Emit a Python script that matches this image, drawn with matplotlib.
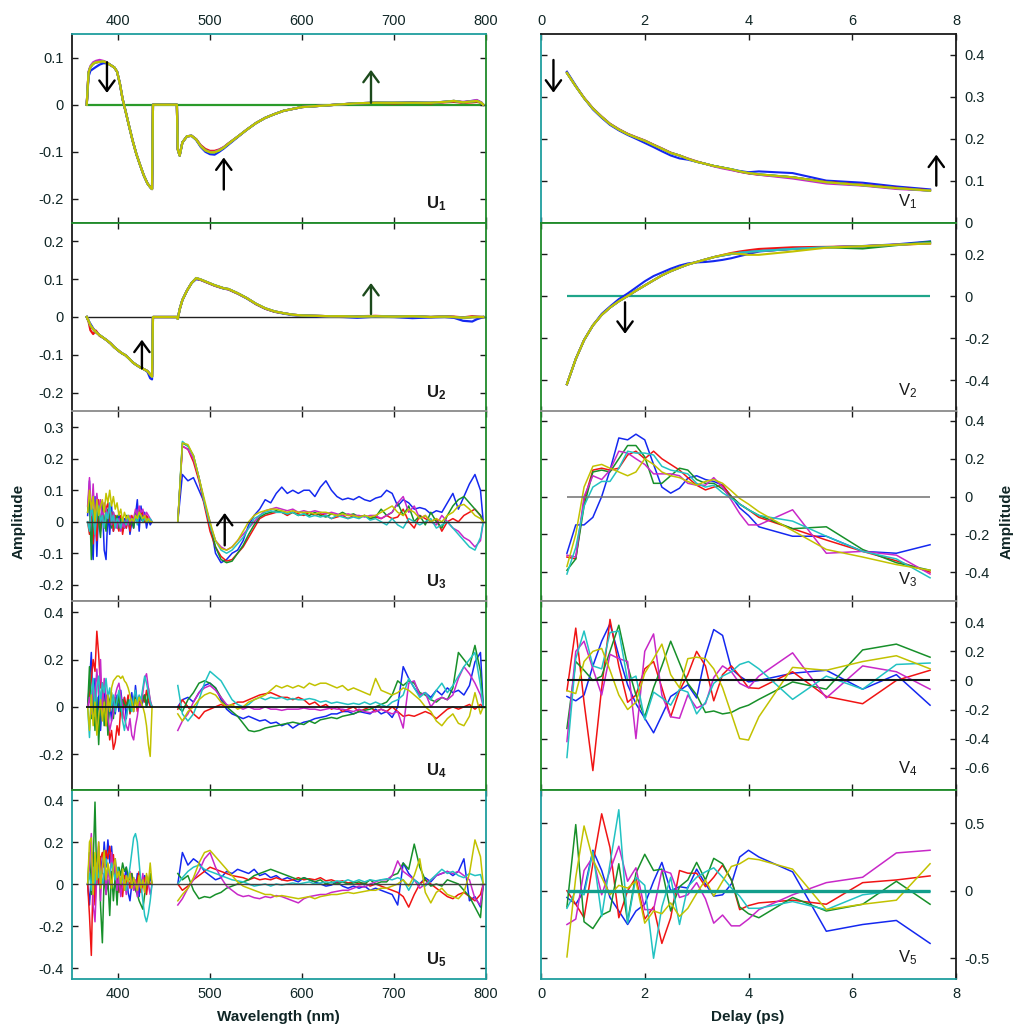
import matplotlib
matplotlib.use("Agg")
import matplotlib.pyplot as plt
from matplotlib.ticker import FixedLocator, FuncFormatter

plt.rcParams["font.family"] = ["Liberation Sans", "DejaVu Sans"]
plt.rcParams["axes.unicode_minus"] = False
plt.rcParams["mathtext.fontset"] = "custom"
plt.rcParams["mathtext.rm"] = "Liberation Sans"
plt.rcParams["mathtext.bf"] = "Liberation Sans:bold"

# ---------------------------------------------------------------- x grids
# U1/U2 spectra keep the blanked pump window (438-464 nm) at zero
wl_u12 = [366, 368, 370, 373, 376, 380, 384, 388, 392, 396, 399, 402, 405, 408, 412,
          416, 420, 424, 428, 432, 435, 437, 438, 464, 465, 467, 470, 475, 480, 485,
          490, 495, 500, 505, 510, 515, 520, 530, 540, 550, 560, 570, 580, 590, 600,
          615, 630, 645, 660, 680, 700, 720, 740, 755, 765, 775, 785, 790, 795, 797]
# blue side and red side of the pump window for U3-U5
wl_a = [367, 369, 371, 373, 375, 377, 379, 381, 383, 385, 387, 389, 391, 393, 395, 397,
        399, 401, 403, 405, 407, 409, 411, 413, 415, 417, 419, 421, 423, 425, 427, 429,
        431, 433, 435, 437]
wl_b = [465, 470, 476, 482, 488, 494, 500, 506, 512, 518, 524, 530, 536, 542, 548, 554,
        560, 566, 572, 578, 584, 590, 596, 602, 608, 614, 620, 626, 632, 638, 644, 650,
        656, 662, 668, 674, 680, 686, 692, 698, 704, 710, 716, 722, 728, 734, 740, 746,
        752, 758, 764, 770, 776, 782, 788, 794, 797]
delay = [0.5, 0.67, 0.83, 1.0, 1.17, 1.33, 1.5, 1.67, 1.83, 2.0, 2.17, 2.33, 2.5, 2.67,
         2.83, 3.0, 3.17, 3.33, 3.5, 3.67, 3.83, 4.0, 4.2, 4.85, 5.5, 6.2, 6.85, 7.5]

# ---------------------------------------------------------------- U1
u1_common = [0.0, 0.068, 0.08, 0.087, 0.09, 0.091, 0.092, 0.089, 0.084, 0.079, 0.07, 0.045,
             0.012, -0.012, -0.045, -0.077, -0.105, -0.128, -0.15, -0.167, -0.175, -0.179,
             0.0, 0.0, -0.095, -0.108, -0.08, -0.067, -0.066, -0.074, -0.088, -0.097,
             -0.101, -0.101, -0.097, -0.091, -0.083, -0.068, -0.053, -0.039, -0.028, -0.02,
             -0.013, -0.009, -0.005, -0.003, -0.001, 0.001, 0.003, 0.004, 0.004, 0.004,
             0.004, 0.006, 0.008, 0.005, 0.007, 0.008, 0.004, 0.0]
u1_blue = [0.0, 0.06, 0.072, 0.076, 0.08, 0.085, 0.088, 0.088, 0.084, 0.079, 0.07, 0.045,
           0.012, -0.012, -0.045, -0.077, -0.105, -0.128, -0.15, -0.167, -0.175, -0.179,
           0.0, 0.0, -0.095, -0.108, -0.08, -0.067, -0.066, -0.075, -0.09, -0.1,
           -0.105, -0.106, -0.1, -0.093, -0.085, -0.069, -0.053, -0.039, -0.028, -0.02,
           -0.013, -0.009, -0.005, -0.003, -0.001, 0.001, 0.003, 0.004, 0.004, 0.005,
           0.004, 0.006, 0.007, 0.005, 0.008, 0.009, 0.004, 0.0]
u1_red = [0.0, 0.068, 0.08, 0.087, 0.09, 0.091, 0.092, 0.089, 0.084, 0.079, 0.07, 0.045,
          0.012, -0.012, -0.045, -0.077, -0.105, -0.128, -0.15, -0.167, -0.175, -0.179,
          0.0, 0.0, -0.095, -0.108, -0.08, -0.067, -0.066, -0.073, -0.086, -0.094,
          -0.098, -0.098, -0.095, -0.09, -0.082, -0.068, -0.053, -0.039, -0.028, -0.02,
          -0.013, -0.009, -0.005, -0.003, -0.001, 0.001, 0.003, 0.004, 0.003, 0.004,
          0.003, 0.005, 0.006, 0.004, 0.005, 0.006, 0.004, 0.0]
u1_magenta = [0.0, 0.07, 0.082, 0.09, 0.093, 0.095, 0.093, 0.09, 0.084, 0.079, 0.07, 0.045,
              0.012, -0.012, -0.045, -0.077, -0.105, -0.128, -0.15, -0.167, -0.175, -0.179,
              0.0, 0.0, -0.095, -0.108, -0.08, -0.067, -0.066, -0.074, -0.088, -0.097,
              -0.1, -0.1, -0.096, -0.09, -0.083, -0.068, -0.053, -0.039, -0.028, -0.02,
              -0.013, -0.009, -0.005, -0.003, -0.001, 0.001, 0.003, 0.004, 0.004, 0.004,
              0.004, 0.006, 0.008, 0.006, 0.008, 0.01, 0.005, 0.0]

# ---------------------------------------------------------------- U2
u2_common = [0.0, -0.01, -0.022, -0.032, -0.04, -0.048, -0.055, -0.062, -0.07, -0.08,
             -0.086, -0.092, -0.097, -0.101, -0.11, -0.12, -0.127, -0.133, -0.138, -0.143,
             -0.152, -0.158, 0.0, 0.0, -0.005, 0.02, 0.045, 0.07, 0.09, 0.103, 0.099,
             0.094, 0.089, 0.084, 0.08, 0.076, 0.074, 0.063, 0.05, 0.035, 0.023, 0.015,
             0.01, 0.006, 0.004, 0.003, 0.002, 0.002, 0.001, 0.002, 0.001, 0.002, 0.0,
             0.001, 0.0, -0.002, 0.0, 0.0, 0.0, 0.0]
u2_blue = [0.0, -0.01, -0.018, -0.03, -0.04, -0.048, -0.055, -0.062, -0.07, -0.08,
           -0.086, -0.092, -0.097, -0.101, -0.11, -0.12, -0.127, -0.133, -0.138, -0.145,
           -0.162, -0.165, 0.0, 0.0, -0.005, 0.02, 0.045, 0.07, 0.09, 0.1, 0.098,
           0.093, 0.088, 0.083, 0.079, 0.075, 0.073, 0.062, 0.049, 0.034, 0.022, 0.014,
           0.009, 0.005, 0.003, 0.002, 0.001, 0.0, -0.002, 0.001, 0.0, -0.003, -0.001,
           0.0, -0.002, -0.01, -0.012, -0.006, -0.002, 0.0]
u2_red = [0.0, -0.012, -0.035, -0.045, -0.036, -0.05, -0.055, -0.062, -0.07, -0.08,
          -0.086, -0.092, -0.097, -0.101, -0.11, -0.12, -0.127, -0.133, -0.138, -0.143,
          -0.152, -0.158, 0.0, 0.0, -0.005, 0.02, 0.045, 0.07, 0.09, 0.102, 0.098,
          0.093, 0.088, 0.083, 0.079, 0.076, 0.073, 0.062, 0.05, 0.034, 0.022, 0.014,
          0.01, 0.006, 0.004, 0.003, 0.002, 0.001, 0.002, 0.003, 0.001, 0.002, 0.0,
          0.002, 0.001, -0.001, 0.002, 0.001, 0.0, 0.0]

# ---------------------------------------------------------------- U3
u3a_blue = [0.02, 0.13, -0.05, -0.12, 0.08, -0.11, 0.05, -0.02, 0.06, -0.09, -0.12, 0.03,
            -0.04, 0.05, -0.03, 0.0, -0.02, 0.03, -0.01, -0.03, 0.01, -0.02, 0.02, -0.04,
            0.0, -0.02, 0.02, 0.07, -0.03, 0.05, 0.0, 0.03, -0.02, 0.01, -0.01, 0.0]
u3a_red = [0.0, -0.04, 0.06, -0.07, 0.04, -0.06, 0.07, -0.03, 0.05, -0.02, 0.04, 0.06,
           0.0, 0.03, -0.03, 0.02, -0.01, -0.03, 0.02, -0.04, 0.0, -0.02, 0.01, -0.03,
           0.02, 0.0, 0.03, 0.01, 0.04, 0.02, 0.03, 0.0, 0.02, 0.01, 0.0, 0.0]
u3a_green = [0.03, 0.08, -0.12, 0.04, -0.02, 0.06, 0.0, -0.05, 0.05, 0.01, -0.03, 0.04,
             0.02, -0.02, 0.03, 0.0, 0.02, -0.02, 0.01, 0.0, -0.02, 0.02, 0.0, -0.01,
             0.01, -0.02, 0.03, 0.0, 0.02, 0.01, 0.0, 0.02, 0.0, 0.01, 0.0, 0.0]
u3a_magenta = [0.05, 0.14, 0.02, 0.12, -0.01, 0.09, 0.03, 0.07, 0.0, 0.06, 0.04, 0.02,
               0.05, -0.01, 0.03, 0.0, -0.02, 0.01, -0.03, 0.0, -0.02, 0.01, -0.01, 0.02,
               0.0, 0.01, 0.04, 0.02, 0.05, 0.03, 0.04, 0.01, 0.03, 0.02, 0.01, 0.0]
u3a_cyan = [0.0, -0.03, 0.05, 0.02, -0.04, 0.03, 0.05, 0.0, 0.02, -0.02, 0.03, 0.01,
            0.06, 0.0, 0.02, -0.02, 0.01, 0.0, -0.02, 0.01, 0.0, -0.01, 0.02, 0.0,
            0.01, 0.0, 0.02, -0.01, 0.03, 0.02, 0.0, 0.01, 0.0, 0.0, 0.01, 0.0]
u3a_yellow = [0.03, 0.1, 0.04, 0.08, 0.0, 0.07, 0.02, 0.05, 0.07, 0.03, 0.09, 0.06,
              0.1, 0.05, 0.08, 0.04, 0.06, 0.02, 0.04, 0.0, 0.03, 0.01, 0.02, 0.0,
              0.01, 0.0, 0.02, 0.01, 0.03, 0.02, 0.01, 0.02, 0.0, 0.01, 0.0, 0.0]

u3b_blue = [0.0, 0.15, 0.13, 0.14, 0.1, 0.06, 0.0, -0.1, -0.13, -0.12,
            -0.1, -0.09, -0.06, -0.01, 0.02, 0.04, 0.07, 0.06, 0.09, 0.11,
            0.09, 0.1, 0.09, 0.1, 0.1, 0.08, 0.11, 0.13, 0.1, 0.08,
            0.07, 0.075, 0.07, 0.08, 0.07, 0.065, 0.075, 0.08, 0.1, 0.09,
            0.05, 0.07, 0.06, 0.04, 0.045, 0.04, 0.025, 0.035, 0.03, 0.06,
            0.09, 0.04, 0.08, 0.12, 0.15, 0.1, 0.0]
u3b_red = [0.0, 0.24, 0.23, 0.19, 0.13, 0.05, -0.03, -0.08, -0.11, -0.125,
           -0.12, -0.1, -0.08, -0.05, -0.02, 0.01, 0.02, 0.025, 0.03, 0.03,
           0.02, 0.03, 0.025, 0.02, 0.03, 0.02, 0.025, 0.02, 0.01, 0.015,
           0.02, 0.01, 0.02, 0.015, 0.02, 0.01, 0.015, 0.01, 0.02, 0.01,
           0.015, 0.04, 0.0, -0.02, 0.02, 0.01, 0.0, 0.01, -0.03, 0.0,
           0.01, 0.0, 0.02, 0.03, 0.04, 0.02, 0.0]
u3b_green = [0.0, 0.25, 0.24, 0.21, 0.14, 0.06, -0.01, -0.08, -0.12, -0.13,
             -0.125, -0.1, -0.075, -0.04, -0.01, 0.015, 0.025, 0.03, 0.035, 0.03,
             0.025, 0.03, 0.02, 0.025, 0.02, 0.03, 0.02, 0.015, 0.025, 0.02,
             0.03, 0.02, 0.025, 0.015, 0.02, 0.01, 0.015, 0.04, 0.02, 0.03,
             0.06, 0.02, 0.05, 0.0, 0.02, -0.01, 0.03, 0.0, -0.02, 0.02,
             0.05, 0.07, 0.08, 0.06, 0.04, 0.02, 0.0]
u3b_magenta = [0.0, 0.24, 0.23, 0.2, 0.14, 0.06, -0.01, -0.06, -0.08, -0.09,
               -0.08, -0.06, -0.04, -0.02, 0.0, 0.02, 0.035, 0.04, 0.045, 0.04,
               0.035, 0.04, 0.03, 0.035, 0.03, 0.035, 0.03, 0.025, 0.03, 0.025,
               0.02, 0.025, 0.02, 0.02, 0.015, 0.02, 0.02, 0.01, 0.02, 0.03,
               0.06, 0.08, 0.03, 0.05, 0.01, 0.02, 0.0, -0.01, 0.02, 0.0,
               -0.02, -0.03, -0.05, -0.06, -0.08, -0.06, 0.0]
u3b_cyan = [0.0, 0.255, 0.24, 0.21, 0.14, 0.06, -0.01, -0.06, -0.09, -0.1,
            -0.09, -0.07, -0.05, -0.02, 0.01, 0.02, 0.03, 0.035, 0.03, 0.03,
            0.025, 0.03, 0.02, 0.025, 0.015, 0.02, 0.015, 0.02, 0.01, 0.02,
            0.015, 0.01, 0.015, 0.01, 0.02, 0.005, 0.01, 0.0, -0.01, 0.01,
            -0.01, -0.02, 0.01, 0.0, -0.01, 0.0, 0.01, -0.02, -0.01, 0.0,
            -0.02, -0.04, -0.06, -0.08, -0.09, -0.05, 0.0]
u3b_yellow = [0.0, 0.25, 0.245, 0.21, 0.14, 0.07, 0.0, -0.06, -0.085, -0.09,
              -0.08, -0.06, -0.03, 0.0, 0.02, 0.03, 0.035, 0.04, 0.04, 0.035,
              0.03, 0.035, 0.03, 0.03, 0.03, 0.025, 0.03, 0.03, 0.025, 0.02,
              0.025, 0.02, 0.02, 0.015, 0.02, 0.015, 0.02, 0.03, 0.04, 0.05,
              0.03, 0.02, 0.04, 0.03, 0.01, 0.02, 0.0, 0.01, 0.0, 0.02,
              0.03, 0.05, 0.055, 0.04, 0.02, 0.01, 0.0]

# ---------------------------------------------------------------- U4
u4a_blue = [0.0, 0.1, 0.23, -0.05, 0.12, -0.08, 0.05, -0.1, 0.03, 0.08, -0.04, -0.07,
            0.02, -0.06, 0.04, -0.03, 0.05, -0.02, 0.07, 0.0, 0.04, -0.05, 0.03, 0.0,
            0.06, -0.02, 0.09, 0.01, 0.03, 0.0, 0.02, 0.05, 0.0, 0.03, 0.01, 0.0]
u4a_red = [0.0, 0.05, 0.12, 0.2, 0.15, 0.32, 0.22, 0.08, 0.1, -0.02, -0.08, -0.05,
           -0.14, -0.1, -0.18, -0.15, -0.08, -0.12, 0.0, -0.05, 0.04, 0.0, 0.05, -0.03,
           0.02, 0.0, 0.04, -0.02, 0.03, 0.01, 0.05, 0.02, 0.07, 0.03, 0.0, 0.0]
u4a_green = [0.0, 0.17, -0.05, 0.08, -0.1, 0.04, -0.16, 0.02, 0.1, -0.08, 0.05, -0.12,
             0.03, 0.06, -0.05, 0.04, 0.0, 0.05, -0.02, 0.03, 0.01, 0.0, 0.03, -0.02,
             0.02, 0.0, 0.04, 0.01, 0.02, 0.0, 0.03, 0.05, 0.0, 0.08, 0.02, 0.0]
u4a_magenta = [0.0, 0.04, -0.03, 0.1, 0.03, 0.16, 0.05, 0.2, -0.02, 0.12, 0.04, -0.05,
               -0.1, -0.06, -0.02, 0.05, 0.08, 0.1, 0.05, 0.0, -0.05, -0.08, -0.1, -0.05,
               -0.12, -0.14, -0.08, -0.04, 0.02, 0.0, 0.06, 0.12, 0.14, 0.08, 0.03, 0.0]
u4a_cyan = [0.0, -0.13, 0.05, 0.12, -0.04, 0.08, 0.13, 0.02, 0.1, 0.06, 0.12, 0.04,
            0.08, 0.0, 0.05, -0.02, 0.03, 0.07, 0.02, -0.06, -0.1, -0.04, 0.0, 0.03,
            -0.02, 0.04, 0.07, 0.02, 0.05, 0.03, 0.08, 0.13, 0.1, 0.06, 0.02, 0.0]
u4a_yellow = [0.0, -0.1, 0.05, -0.08, 0.02, -0.12, -0.04, 0.03, -0.06, 0.02, -0.08, 0.05,
              -0.02, 0.08, 0.11, 0.12, 0.13, 0.13, 0.12, 0.13, 0.11, 0.1, 0.08, 0.05,
              0.02, -0.02, 0.03, 0.0, 0.04, 0.02, 0.0, -0.03, -0.08, -0.16, -0.21, 0.0]

u4b_blue = [0.0, 0.03, 0.04, 0.02, 0.06, 0.09, 0.1, 0.08, 0.03, -0.01,
            -0.03, -0.04, -0.05, -0.04, -0.05, -0.06, -0.055, -0.07, -0.065, -0.08,
            -0.07, -0.09, -0.075, -0.065, -0.06, -0.05, -0.045, -0.04, -0.03, -0.03,
            -0.02, -0.02, -0.03, -0.02, -0.025, -0.03, -0.01, -0.03, -0.02, -0.045,
            0.0, 0.17, 0.12, 0.08, 0.05, 0.06, 0.04, 0.07, 0.05, 0.08,
            0.06, 0.07, 0.05, 0.09, 0.19, 0.23, 0.0]
u4b_red = [-0.01, 0.03, 0.0, -0.03, -0.05, -0.02, -0.01, 0.0, 0.01, 0.0,
           0.01, 0.02, 0.02, 0.03, 0.04, 0.05, 0.055, 0.06, 0.05, 0.04,
           0.04, 0.03, 0.04, 0.03, 0.01, 0.02, 0.0, 0.01, -0.01, 0.0,
           -0.02, -0.01, 0.0, -0.02, -0.01, 0.0, -0.02, -0.01, -0.02, 0.0,
           -0.02, -0.04, -0.035, -0.04, -0.03, -0.02, -0.03, -0.05, -0.03, -0.01,
           0.0, -0.01, 0.0, 0.01, -0.01, 0.01, 0.0]
u4b_green = [0.0, -0.02, 0.03, 0.06, 0.1, 0.11, 0.1, 0.08, 0.04, 0.0,
             -0.02, -0.04, -0.07, -0.1, -0.105, -0.1, -0.09, -0.085, -0.08, -0.075,
             -0.07, -0.065, -0.07, -0.075, -0.06, -0.07, -0.055, -0.05, -0.045, -0.05,
             -0.04, -0.035, -0.03, -0.02, -0.015, -0.01, 0.0, 0.01, 0.02, 0.05,
             0.11, 0.09, 0.11, 0.1, 0.06, 0.05, 0.03, 0.02, 0.04, 0.03,
             0.08, 0.23, 0.2, 0.17, 0.26, 0.15, 0.0]
u4b_magenta = [-0.1, -0.06, -0.03, 0.02, 0.06, 0.08, 0.09, 0.07, 0.04, 0.01,
               0.0, 0.0, -0.01, 0.0, -0.01, -0.01, 0.0, -0.01, -0.01, -0.015,
               -0.01, -0.01, -0.01, -0.005, -0.01, -0.01, -0.015, -0.01, -0.005, -0.01,
               -0.01, -0.015, -0.02, -0.01, -0.02, -0.025, -0.02, -0.01, -0.02, -0.03,
               -0.02, -0.09, 0.1, 0.11, 0.05, 0.06, 0.0, 0.03, 0.04, 0.03,
               0.05, 0.12, 0.17, 0.14, 0.1, 0.05, 0.0]
u4b_cyan = [0.09, -0.03, -0.06, -0.03, 0.03, 0.1, 0.15, 0.13, 0.11, 0.07,
            0.03, 0.01, 0.0, 0.01, 0.03, 0.04, 0.03, 0.04, 0.035, 0.04,
            0.03, 0.035, 0.03, 0.03, 0.035, 0.03, 0.02, 0.025, 0.015, 0.02,
            0.015, 0.01, 0.015, 0.01, 0.02, 0.01, 0.02, 0.01, 0.0, 0.02,
            0.03, 0.05, 0.12, 0.08, 0.04, 0.06, 0.03, 0.07, 0.1, 0.06,
            0.09, 0.13, 0.17, 0.2, 0.23, 0.09, 0.0]
u4b_yellow = [-0.03, -0.06, -0.02, 0.0, 0.03, 0.05, 0.06, 0.05, 0.02, 0.0,
              0.01, -0.01, 0.0, 0.02, 0.03, 0.04, 0.05, 0.07, 0.09, 0.08,
              0.09, 0.08, 0.09, 0.08, 0.1, 0.09, 0.1, 0.1, 0.09, 0.08,
              0.09, 0.07, 0.08, 0.07, 0.06, 0.05, 0.12, 0.07, 0.06, 0.05,
              0.06, 0.08, 0.07, 0.05, 0.03, 0.0, -0.02, -0.06, -0.08, -0.05,
              -0.03, -0.07, -0.08, -0.04, 0.06, -0.03, 0.0]

# ---------------------------------------------------------------- U5
u5a_blue = [0.0, -0.1, 0.05, 0.15, -0.05, 0.1, 0.02, 0.13, 0.05, 0.2, 0.08, 0.21,
            0.1, 0.18, 0.05, 0.12, 0.0, 0.06, -0.03, 0.05, 0.02, 0.08, -0.04, -0.08,
            0.0, 0.03, -0.03, 0.05, -0.06, 0.02, 0.0, 0.04, -0.02, 0.0, 0.03, 0.0]
u5a_red = [0.0, -0.15, -0.34, 0.05, -0.1, 0.08, 0.0, 0.12, 0.15, 0.08, 0.16, 0.12,
           0.18, 0.1, 0.14, 0.02, 0.06, -0.04, 0.02, -0.06, 0.04, 0.0, 0.03, -0.02,
           0.05, 0.0, -0.03, 0.02, 0.06, -0.04, 0.0, 0.03, -0.05, 0.02, 0.0, 0.0]
u5a_green = [0.0, 0.15, -0.05, 0.1, 0.39, 0.0, 0.18, -0.1, -0.28, 0.05, -0.05, 0.02,
             -0.15, 0.06, -0.08, 0.04, -0.1, 0.08, 0.04, 0.1, 0.06, 0.08, 0.04, 0.02,
             0.05, 0.0, -0.03, -0.05, -0.08, -0.1, -0.12, -0.05, 0.02, 0.0, 0.05, 0.0]
u5a_magenta = [0.0, 0.1, 0.24, -0.1, -0.18, 0.05, 0.2, -0.08, 0.1, 0.14, -0.05, 0.08,
               0.0, 0.15, 0.05, 0.1, -0.03, 0.04, -0.06, 0.0, 0.02, -0.05, 0.03, 0.06,
               0.0, -0.03, 0.02, -0.06, 0.03, -0.02, 0.05, -0.04, 0.04, 0.0, -0.05, 0.0]
u5a_cyan = [0.0, 0.05, -0.03, 0.08, 0.0, 0.1, 0.03, 0.06, 0.0, 0.05, 0.12, 0.08,
            0.04, 0.1, 0.06, 0.02, 0.08, 0.05, 0.0, 0.04, 0.0, -0.03, 0.02, 0.08,
            0.15, 0.22, 0.24, 0.2, 0.1, 0.0, -0.08, -0.15, -0.18, -0.14, -0.08, 0.0]
u5a_yellow = [0.0, 0.2, 0.22, -0.05, 0.15, 0.02, 0.2, -0.02, 0.08, 0.16, 0.02, 0.1,
              0.05, -0.02, 0.08, 0.12, 0.03, 0.06, 0.0, 0.07, -0.03, 0.04, 0.01, 0.05,
              -0.02, 0.03, 0.0, -0.03, 0.04, -0.02, 0.02, -0.04, 0.05, 0.0, 0.1, 0.0]

u5b_blue = [0.0, 0.15, 0.09, 0.12, 0.1, 0.06, 0.04, 0.02, 0.03, 0.06,
            0.05, 0.07, 0.06, 0.05, 0.07, 0.04, 0.05, 0.03, 0.04, 0.02,
            0.03, 0.02, 0.01, 0.03, 0.02, 0.01, 0.0, -0.01, -0.005, 0.01,
            -0.01, -0.02, -0.01, -0.02, -0.01, -0.03, -0.02, -0.03, -0.04, -0.05,
            -0.1, 0.1, 0.05, 0.02, 0.0, 0.03, 0.01, 0.04, 0.05, 0.06,
            0.04, 0.06, 0.12, -0.08, -0.06, -0.11, 0.0]
u5b_red = [0.0, -0.03, -0.01, 0.02, 0.04, 0.06, 0.08, 0.07, 0.06, 0.05,
           0.04, 0.035, 0.03, 0.02, 0.03, 0.02, 0.025, 0.02, 0.03, 0.02,
           0.015, 0.02, 0.03, 0.02, 0.025, 0.02, 0.03, 0.015, 0.02, 0.01,
           0.015, 0.005, 0.01, 0.0, 0.005, -0.01, 0.0, -0.01, -0.02, -0.03,
           -0.04, -0.06, -0.11, -0.05, 0.0, 0.02, 0.0, -0.02, -0.04, -0.06,
           -0.07, -0.05, -0.04, -0.06, -0.08, -0.05, 0.0]
u5b_green = [0.05, 0.02, 0.04, -0.03, -0.07, -0.06, -0.065, -0.05, -0.04, -0.02,
             -0.01, 0.0, 0.01, 0.02, 0.04, 0.05, 0.06, 0.07, 0.06, 0.05,
             0.04, 0.03, 0.02, 0.03, 0.02, 0.01, 0.02, 0.0, 0.01, 0.0,
             0.01, 0.0, 0.005, 0.01, 0.0, 0.02, 0.0, 0.01, 0.01, 0.04,
             0.05, 0.1, 0.07, 0.19, 0.08, 0.02, -0.01, 0.0, -0.01, 0.02,
             0.01, 0.0, -0.03, -0.06, -0.11, -0.16, 0.0]
u5b_magenta = [-0.1, -0.07, -0.02, 0.02, 0.06, 0.12, 0.15, 0.08, 0.03, -0.01,
               -0.03, -0.05, -0.06, -0.055, -0.065, -0.07, -0.06, -0.065, -0.055, -0.06,
               -0.07, -0.08, -0.09, -0.07, -0.06, -0.055, -0.05, -0.05, -0.04, -0.035,
               -0.03, -0.03, -0.02, -0.01, -0.015, 0.0, 0.01, 0.02, 0.02, 0.04,
               0.11, 0.06, 0.04, 0.02, -0.02, 0.0, 0.02, 0.04, 0.05, 0.06,
               0.05, 0.06, 0.04, 0.02, -0.07, -0.1, 0.0]
u5b_cyan = [0.0, 0.03, 0.06, 0.08, 0.09, 0.07, 0.06, 0.05, 0.04, 0.03,
            0.02, 0.015, 0.01, 0.0, -0.01, -0.005, 0.0, -0.01, 0.0, -0.005,
            0.0, 0.005, 0.0, 0.005, 0.01, 0.0, 0.005, 0.01, 0.005, 0.015,
            0.01, 0.02, 0.01, 0.02, 0.01, 0.02, 0.015, 0.02, 0.025, 0.02,
            0.03, 0.02, -0.03, 0.02, 0.0, -0.01, 0.02, 0.045, 0.07, 0.05,
            0.06, 0.04, 0.03, 0.05, 0.04, 0.045, 0.0]
u5b_yellow = [-0.08, -0.05, -0.02, 0.03, 0.1, 0.15, 0.16, 0.13, 0.1, 0.07,
              0.04, 0.01, -0.01, -0.02, -0.03, -0.04, -0.05, -0.05, -0.06, -0.055,
              -0.06, -0.065, -0.07, -0.065, -0.06, -0.07, -0.06, -0.055, -0.05, -0.05,
              -0.045, -0.04, -0.045, -0.04, -0.035, -0.03, -0.03, -0.02, -0.02, -0.01,
              0.0, 0.02, -0.01, 0.04, 0.12, -0.04, -0.09, -0.04, -0.02, -0.05,
              -0.06, -0.07, -0.04, 0.05, 0.21, 0.13, 0.0]

# ---------------------------------------------------------------- V1, V2
v1_common = [0.357, 0.325, 0.297, 0.272, 0.252, 0.235, 0.222, 0.211, 0.203, 0.195, 0.185,
             0.176, 0.166, 0.16, 0.152, 0.145, 0.14, 0.135, 0.131, 0.127, 0.122, 0.118,
             0.115, 0.108, 0.096, 0.089, 0.082, 0.076]
v1_blue = [0.36, 0.327, 0.297, 0.27, 0.25, 0.233, 0.22, 0.209, 0.2, 0.19, 0.18, 0.17,
           0.16, 0.153, 0.15, 0.145, 0.14, 0.135, 0.131, 0.127, 0.123, 0.12, 0.122,
           0.118, 0.1, 0.095, 0.086, 0.079]
v1_red = [0.357, 0.325, 0.298, 0.273, 0.253, 0.236, 0.223, 0.212, 0.204, 0.196, 0.186,
          0.177, 0.167, 0.16, 0.153, 0.146, 0.14, 0.135, 0.131, 0.126, 0.121, 0.117,
          0.114, 0.108, 0.097, 0.09, 0.083, 0.077]
v1_magenta = [0.357, 0.325, 0.297, 0.272, 0.252, 0.235, 0.222, 0.211, 0.203, 0.195, 0.185,
              0.176, 0.166, 0.16, 0.152, 0.145, 0.14, 0.134, 0.129, 0.125, 0.121, 0.118,
              0.114, 0.105, 0.093, 0.088, 0.08, 0.076]

v2_common = [-0.42, -0.3, -0.21, -0.14, -0.09, -0.055, -0.025, 0.0, 0.025, 0.05, 0.075,
             0.098, 0.118, 0.135, 0.15, 0.162, 0.174, 0.185, 0.193, 0.2, 0.206, 0.21,
             0.214, 0.224, 0.232, 0.237, 0.244, 0.252]
v2_blue = [-0.42, -0.3, -0.21, -0.14, -0.085, -0.05, -0.015, 0.012, 0.04, 0.07, 0.095,
           0.112, 0.13, 0.145, 0.155, 0.16, 0.162, 0.166, 0.172, 0.18, 0.19, 0.2,
           0.212, 0.225, 0.232, 0.238, 0.246, 0.26]
v2_red = [-0.42, -0.3, -0.21, -0.14, -0.09, -0.055, -0.025, 0.0, 0.025, 0.05, 0.075,
          0.098, 0.118, 0.135, 0.15, 0.162, 0.174, 0.185, 0.195, 0.205, 0.212, 0.218,
          0.224, 0.232, 0.234, 0.237, 0.244, 0.25]
v2_green = [-0.42, -0.3, -0.21, -0.14, -0.09, -0.055, -0.025, 0.0, 0.025, 0.05, 0.075,
            0.098, 0.118, 0.135, 0.15, 0.162, 0.174, 0.185, 0.193, 0.2, 0.206, 0.21,
            0.214, 0.224, 0.232, 0.226, 0.242, 0.258]
v2_yellow = [-0.42, -0.3, -0.21, -0.14, -0.09, -0.055, -0.025, 0.0, 0.025, 0.05, 0.075,
             0.098, 0.118, 0.135, 0.15, 0.162, 0.174, 0.185, 0.195, 0.203, 0.2, 0.196,
             0.196, 0.212, 0.23, 0.237, 0.244, 0.25]

# ---------------------------------------------------------------- V3
v3_blue = [-0.3, -0.15, -0.15, -0.11, 0.0, 0.14, 0.31, 0.3, 0.33, 0.3, 0.17, 0.05, 0.018,
           0.044, 0.097, 0.11, 0.09, 0.08, 0.06, 0.0, -0.06, -0.1, -0.16, -0.21, -0.21,
           -0.29, -0.3, -0.255]
v3_red = [-0.32, -0.33, -0.02, 0.14, 0.15, 0.14, 0.15, 0.22, 0.24, 0.2, 0.24, 0.2, 0.17,
          0.14, 0.1, 0.06, 0.035, 0.05, 0.06, 0.0, -0.04, -0.07, -0.11, -0.17, -0.23,
          -0.29, -0.34, -0.4]
v3_green = [-0.39, -0.33, -0.05, 0.13, 0.14, 0.13, 0.2, 0.27, 0.27, 0.21, 0.07, 0.07, 0.11,
            0.15, 0.14, 0.09, 0.07, 0.07, 0.04, 0.0, -0.04, -0.07, -0.1, -0.17, -0.16,
            -0.28, -0.35, -0.39]
v3_magenta = [-0.31, -0.32, 0.0, 0.11, 0.09, 0.14, 0.24, 0.23, 0.2, 0.17, 0.12, 0.12, 0.12,
              0.11, 0.07, 0.06, 0.06, 0.1, 0.05, -0.02, -0.09, -0.15, -0.15, -0.07, -0.3,
              -0.29, -0.31, -0.41]
v3_cyan = [-0.41, -0.27, -0.05, 0.05, 0.08, 0.08, 0.15, 0.24, 0.23, 0.23, 0.22, 0.16, 0.14,
           0.13, 0.12, 0.07, 0.05, 0.06, 0.02, -0.01, -0.04, -0.07, -0.1, -0.13, -0.21,
           -0.29, -0.33, -0.43]
v3_yellow = [-0.37, -0.2, 0.05, 0.16, 0.17, 0.15, 0.13, 0.11, 0.13, 0.2, 0.17, 0.13, 0.11,
             0.1, 0.08, 0.06, 0.08, 0.09, 0.07, 0.03, -0.01, -0.04, -0.08, -0.18, -0.28,
             -0.32, -0.36, -0.39]

# ---------------------------------------------------------------- V4
v4_blue = [-0.11, -0.14, -0.1, 0.1, 0.27, 0.39, 0.17, -0.03, -0.16, -0.26, -0.36, -0.24,
           -0.11, -0.07, -0.03, -0.12, 0.17, 0.35, 0.31, 0.08, 0.03, -0.01, 0.0, 0.05,
           0.07, -0.06, 0.04, -0.17]
v4_red = [-0.07, 0.36, -0.15, -0.62, -0.05, 0.42, 0.1, -0.15, -0.1, 0.08, 0.13, -0.05,
          -0.25, -0.07, 0.04, 0.2, 0.1, -0.14, 0.04, 0.1, 0.03, -0.05, -0.055, 0.06,
          -0.11, -0.16, 0.0, 0.07]
v4_green = [-0.33, 0.13, 0.07, 0.0, 0.03, 0.2, 0.38, 0.1, -0.1, -0.25, -0.05, 0.1, 0.27,
            0.12, -0.02, -0.1, -0.22, -0.21, -0.23, -0.22, -0.19, -0.17, -0.13, -0.01,
            -0.06, 0.21, 0.25, 0.16]
v4_magenta = [-0.42, 0.2, 0.27, 0.08, -0.1, 0.18, 0.15, 0.13, -0.4, 0.2, 0.32, -0.1,
              -0.25, -0.26, -0.1, -0.19, -0.16, 0.02, 0.1, 0.06, -0.02, -0.05, 0.03, 0.19,
              -0.12, 0.1, 0.06, -0.06]
v4_cyan = [-0.53, 0.15, 0.34, 0.1, 0.08, 0.33, 0.34, 0.0, 0.03, -0.27, -0.08, -0.12,
           -0.17, -0.06, -0.08, -0.23, -0.15, -0.02, 0.03, 0.06, 0.11, 0.13, 0.08, -0.13,
           0.03, -0.06, 0.11, 0.12]
v4_yellow = [-0.07, -0.09, 0.13, 0.2, 0.22, 0.07, -0.1, -0.2, -0.15, 0.05, 0.15, 0.25,
             0.04, -0.05, 0.15, 0.16, 0.15, 0.08, -0.05, -0.23, -0.4, -0.41, -0.25, 0.09,
             0.07, 0.13, 0.17, 0.08]

# ---------------------------------------------------------------- V5
v5_blue = [-0.05, -0.1, 0.0, 0.3, 0.15, -0.05, -0.15, -0.25, -0.15, -0.1, 0.07, 0.21, 0.0,
           0.03, 0.02, 0.16, 0.05, -0.04, -0.03, 0.05, 0.25, 0.3, 0.25, 0.14, -0.3, -0.25,
           -0.22, -0.39]
v5_red = [0.0, -0.1, -0.2, 0.2, 0.57, 0.32, -0.2, 0.0, 0.1, -0.21, -0.12, -0.39, -0.2,
          0.15, 0.13, 0.13, 0.03, 0.1, 0.19, 0.08, -0.14, -0.11, -0.09, -0.07, -0.1, 0.06,
          0.08, 0.11]
v5_green = [-0.12, 0.49, -0.23, -0.28, -0.18, -0.15, 0.2, -0.23, 0.13, 0.27, 0.15, 0.16,
            -0.15, 0.03, 0.08, 0.21, 0.08, 0.24, 0.2, 0.08, -0.12, -0.17, -0.2, -0.05,
            -0.15, -0.1, 0.07, -0.1]
v5_magenta = [-0.25, -0.21, 0.15, 0.25, -0.03, 0.15, 0.33, 0.07, 0.17, -0.14, -0.14, 0.15,
              0.13, -0.05, -0.03, 0.06, -0.06, -0.24, -0.18, -0.26, -0.26, -0.21, -0.14,
              -0.03, 0.06, 0.1, 0.28, 0.3]
v5_cyan = [-0.13, 0.0, -0.03, 0.29, -0.19, 0.2, 0.6, -0.24, 0.1, 0.04, -0.5, -0.12, 0.1,
           -0.25, 0.03, 0.1, 0.14, 0.17, 0.1, 0.02, -0.04, -0.13, -0.13, -0.08, -0.14,
           -0.03, 0.0, -0.005]
v5_yellow = [-0.49, 0.1, 0.48, 0.23, 0.1, -0.03, 0.04, 0.02, 0.07, -0.24, -0.15, -0.17,
             -0.09, -0.19, -0.13, -0.02, 0.08, -0.04, 0.07, 0.18, 0.2, 0.24, 0.23, 0.16,
             -0.14, -0.1, -0.07, 0.2]

# ---------------------------------------------------------------- styling
COLORS = {"blue": "#1428f0", "red": "#f01414", "green": "#17902a",
          "magenta": "#c828c8", "cyan": "#22c2c2", "yellow": "#c2c200"}
ORDER = ["blue", "red", "green", "magenta", "cyan", "yellow"]
TEAL, GREEN, GRAY, DARK = "#1f9e9e", "#1f8a2a", "#8a8a8a", "#1a1a1a"
TXT = "#102626"

fig = plt.figure(figsize=(10.16, 10.28), dpi=100)
W, H = 1016.0, 1028.0
row_edges = [34, 222.5, 411.5, 600.5, 789.5, 978.5]
col_x = [(72, 486), (541, 956)]


def make_axes(col, row):
    x0, x1 = col_x[col]
    top, bot = row_edges[row], row_edges[row + 1]
    return fig.add_axes([x0 / W, 1 - bot / H, (x1 - x0) / W, (bot - top) / H])


def fmt(v, _pos):
    return "0" if abs(v) < 1e-9 else f"{v:g}"


def style(ax, col, row, yticks, ylim, spines):
    for side, c in zip(["top", "bottom", "left", "right"], spines):
        ax.spines[side].set_color(c)
        ax.spines[side].set_linewidth(1.3)
    ax.set_ylim(*ylim)
    ax.yaxis.set_major_locator(FixedLocator(yticks))
    ax.yaxis.set_major_formatter(FuncFormatter(fmt))
    if col == 0:
        ax.set_xlim(350, 800)
        ax.xaxis.set_major_locator(FixedLocator([400, 500, 600, 700, 800]))
    else:
        ax.set_xlim(0, 8)
        ax.xaxis.set_major_locator(FixedLocator([0, 2, 4, 6, 8]))
    ax.xaxis.set_major_formatter(FuncFormatter(fmt))
    ax.tick_params(axis="both", direction="in", length=4, width=1.0, colors=DARK,
                   labelcolor=TXT, labelsize=10.5)
    ax.tick_params(axis="x", top=True, bottom=True,
                   labeltop=(row == 0), labelbottom=(row == 4), pad=6)
    if row == 0:
        ax.xaxis.set_tick_params(which="major", pad=4)
    ax.tick_params(axis="y", left=True, right=True,
                   labelleft=(col == 0), labelright=(col == 1), pad=6)


def draw_u_segments(ax, xs, series, lw):
    for name in ORDER:
        ax.plot(xs, series[name], color=COLORS[name], lw=lw, solid_joinstyle="round")


def label(ax, text, col, bold):
    x = 0.855 if col == 0 else 0.86
    y = 0.075 if col == 0 else 0.085
    ax.text(x, y, text, transform=ax.transAxes, fontsize=12, color=DARK,
            fontweight="bold" if bold else "normal")


def arrow(ax, x, y0, y1, color="black"):
    ax.annotate("", xy=(x, y1), xytext=(x, y0),
                arrowprops=dict(arrowstyle="->,head_length=0.3,head_width=0.22",
                                lw=1.7, color=color, mutation_scale=25,
                                shrinkA=0, shrinkB=0))


u_spines = [(TEAL, GREEN, DARK, GREEN), (GREEN, GRAY, DARK, GREEN),
            (GRAY, GRAY, DARK, GREEN), (GRAY, GREEN, DARK, GREEN),
            (GREEN, TEAL, TEAL, TEAL)]
v_spines = [(DARK, GREEN, TEAL, DARK), (GREEN, GRAY, GREEN, DARK),
            (GRAY, GRAY, GREEN, DARK), (GRAY, GREEN, GREEN, DARK),
            (GREEN, TEAL, TEAL, DARK)]

# ---------------------------------------------------------------- U column
ax = make_axes(0, 0)
ax.hlines(0, 365, 800, color="#2a9a2a", lw=1.6, zorder=1)
draw_u_segments(ax, wl_u12, {"blue": u1_blue, "red": u1_red, "green": u1_common,
                             "magenta": u1_magenta, "cyan": u1_common,
                             "yellow": u1_common}, 1.6)
arrow(ax, 388, 0.09, 0.025)
arrow(ax, 515, -0.18, -0.112)
arrow(ax, 675, 0.004, 0.074, color="#1c4a1c")
style(ax, 0, 0, [-0.2, -0.1, 0, 0.1], (-0.25, 0.15), u_spines[0])
label(ax, r"$\mathbf{U_1}$", 0, True)

ax = make_axes(0, 1)
ax.hlines(0, 365, 800, color="#202020", lw=1.0, zorder=1)
draw_u_segments(ax, wl_u12, {"blue": u2_blue, "red": u2_red, "green": u2_common,
                             "magenta": u2_common, "cyan": u2_common,
                             "yellow": u2_common}, 1.6)
arrow(ax, 426, -0.136, -0.06)
arrow(ax, 675, 0.008, 0.09, color="#1c4a1c")
style(ax, 0, 1, [-0.2, -0.1, 0, 0.1, 0.2], (-0.25, 0.25), u_spines[1])
label(ax, r"$\mathbf{U_2}$", 0, True)

u_noisy = [
    ({"blue": u3a_blue, "red": u3a_red, "green": u3a_green, "magenta": u3a_magenta,
      "cyan": u3a_cyan, "yellow": u3a_yellow},
     {"blue": u3b_blue, "red": u3b_red, "green": u3b_green, "magenta": u3b_magenta,
      "cyan": u3b_cyan, "yellow": u3b_yellow},
     [-0.2, -0.1, 0, 0.1, 0.2, 0.3], (-0.25, 0.35), "#303030"),
    ({"blue": u4a_blue, "red": u4a_red, "green": u4a_green, "magenta": u4a_magenta,
      "cyan": u4a_cyan, "yellow": u4a_yellow},
     {"blue": u4b_blue, "red": u4b_red, "green": u4b_green, "magenta": u4b_magenta,
      "cyan": u4b_cyan, "yellow": u4b_yellow},
     [-0.2, 0, 0.2, 0.4], (-0.35, 0.45), "#101818"),
    ({"blue": u5a_blue, "red": u5a_red, "green": u5a_green, "magenta": u5a_magenta,
      "cyan": u5a_cyan, "yellow": u5a_yellow},
     {"blue": u5b_blue, "red": u5b_red, "green": u5b_green, "magenta": u5b_magenta,
      "cyan": u5b_cyan, "yellow": u5b_yellow},
     [-0.4, -0.2, 0, 0.2, 0.4], (-0.45, 0.45), "#404040"),
]
for i, (seg_a, seg_b, yt, yl, zc) in enumerate(u_noisy):
    row = i + 2
    ax = make_axes(0, row)
    draw_u_segments(ax, wl_a, seg_a, 1.1)
    draw_u_segments(ax, wl_b, seg_b, 1.1)
    ax.hlines(0, 365, 800, color=zc, lw=1.3 if row == 3 else 1.0, zorder=3)
    if row == 2:
        arrow(ax, 516, -0.075, 0.028)
    style(ax, 0, row, yt, yl, u_spines[row])
    label(ax, r"$\mathbf{U_%d}$" % (row + 1), 0, True)

# ---------------------------------------------------------------- V column
v_panels = [
    ({"blue": v1_blue, "red": v1_red, "green": v1_common, "magenta": v1_magenta,
      "cyan": v1_common, "yellow": v1_common},
     [0, 0.1, 0.2, 0.3, 0.4], (0, 0.45), None, 1.5),
    ({"blue": v2_blue, "red": v2_red, "green": v2_green, "magenta": v2_common,
      "cyan": v2_common, "yellow": v2_yellow},
     [-0.4, -0.2, 0, 0.2], (-0.55, 0.35), ("#1fa58a", 1.6), 1.5),
    ({"blue": v3_blue, "red": v3_red, "green": v3_green, "magenta": v3_magenta,
      "cyan": v3_cyan, "yellow": v3_yellow},
     [-0.4, -0.2, 0, 0.2, 0.4], (-0.55, 0.45), ("#707070", 1.1), 1.1),
    ({"blue": v4_blue, "red": v4_red, "green": v4_green, "magenta": v4_magenta,
      "cyan": v4_cyan, "yellow": v4_yellow},
     [-0.6, -0.4, -0.2, 0, 0.2, 0.4], (-0.75, 0.55), ("#101818", 1.5), 1.1),
    ({"blue": v5_blue, "red": v5_red, "green": v5_green, "magenta": v5_magenta,
      "cyan": v5_cyan, "yellow": v5_yellow},
     [-0.5, 0, 0.5], (-0.65, 0.75), ("#139e8c", 2.4), 1.1),
]
for row, (series, yt, yl, zero, lw) in enumerate(v_panels):
    ax = make_axes(1, row)
    if zero is not None and row == 1:
        ax.hlines(0, 0.5, 7.5, color=zero[0], lw=zero[1], zorder=1)
    for name in ORDER:
        ax.plot(delay, series[name], color=COLORS[name], lw=lw)
    if zero is not None and row != 1:
        ax.hlines(0, 0.5, 7.5, color=zero[0], lw=zero[1], zorder=3)
    if row == 0:
        arrow(ax, 0.24, 0.388, 0.31)
        arrow(ax, 7.62, 0.088, 0.162)
    if row == 1:
        arrow(ax, 1.62, -0.03, -0.18)
    style(ax, 1, row, yt, yl, v_spines[row])
    label(ax, r"$\mathrm{V_%d}$" % (row + 1), 1, False)

# ---------------------------------------------------------------- axis titles
fig.text(0.018, 0.493, "Amplitude", rotation=90, ha="center", va="center",
         fontsize=11, fontweight="bold", color=TXT)
fig.text(0.991, 0.493, "Amplitude", rotation=90, ha="center", va="center",
         fontsize=11, fontweight="bold", color=TXT)
fig.text(0.274, 0.011, "Wavelength (nm)", ha="center", va="center",
         fontsize=11, fontweight="bold", color=TXT)
fig.text(0.736, 0.011, "Delay (ps)", ha="center", va="center",
         fontsize=11, fontweight="bold", color=TXT)

fig.savefig("out.png", dpi=100)
